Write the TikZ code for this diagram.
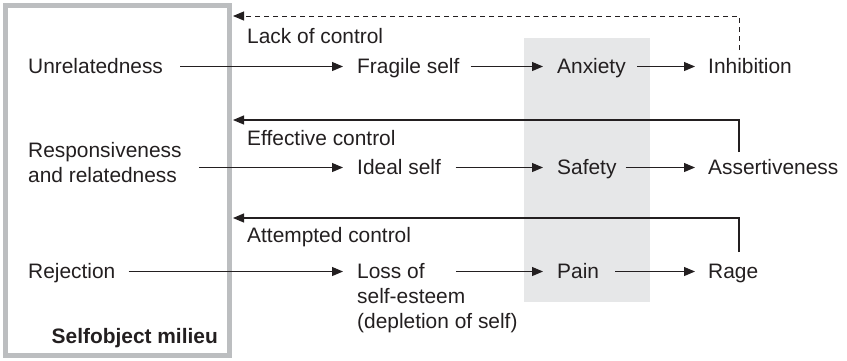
\documentclass[tikz,border=0pt]{standalone}
\usepackage{fontspec}
\setmainfont{Liberation Sans}
\usetikzlibrary{arrows.meta}

\definecolor{ink}{HTML}{231F20}
\definecolor{framegray}{HTML}{BCBEC0}
\definecolor{bandgray}{HTML}{E6E7E8}

\tikzset{
  txt/.style={inner sep=0pt, text height=15pt, text depth=2pt, anchor=base west,
    text=ink, font=\fontsize{20.9pt}{25pt}\selectfont},
  % multi-line blocks: the base anchor sits on the last line
  multi/.style={inner sep=0pt, anchor=base west, align=left,
    text=ink, font=\fontsize{20.9pt}{25pt}\selectfont},
  arr/.style={draw=ink, line width=1.2pt, -{Triangle[length=11pt,width=9pt]}},
  fb/.style={draw=ink, line width=1.2pt, -{Triangle[length=11pt,width=9pt]}},
  fbdash/.style={fb, line width=1pt, dash pattern=on 5pt off 4pt},
}

\begin{document}
\begin{tikzpicture}[x=1pt,y=-1pt]
\useasboundingbox (0,0) rectangle (847,360);

% shaded band behind the middle column
\fill[bandgray] (524,38) rectangle (650,302);

% selfobject milieu frame
\node[draw=framegray, line width=5pt, minimum width=224pt, minimum height=350pt,
      inner sep=0pt] (frame) at (117.5,180.5) {};
\node[inner sep=0pt, anchor=base east, text=ink,
      font=\fontsize{20.9pt}{25pt}\selectfont\bfseries] (milieu) at (218,343) {Selfobject milieu};

% row 1
\node[txt] (unrel)   at (28,73)  {Unrelatedness};
\node[txt] (fragile) at (357,73) {Fragile self};
\node[txt] (anxiety) at (557,73) {Anxiety};
\node[txt] (inhib)   at (708,73) {Inhibition};

% row 2
\node[multi] (resp)   at (28,182)  {Responsiveness\\and relatedness};
\node[txt]   (ideal)  at (357,174) {Ideal self};
\node[txt]   (safety) at (557,174) {Safety};
\node[txt]   (assert) at (708,174) {Assertiveness};

% row 3
\node[txt]   (rej)      at (28,278)  {Rejection};
\node[txt]   (loss)     at (357,278) {Loss of};
\node[multi] (lossmore) at (357,328) {self-esteem\\(depletion of self)};
\node[txt]   (pain)     at (557,278) {Pain};
\node[txt]   (rage)     at (708,278) {Rage};

% feedback labels
\node[txt] (lack)      at (247,43)  {Lack of control};
\node[txt] (effective) at (247,145) {Effective control};
\node[txt] (attempted) at (247,242) {Attempted control};

% forward arrows
\draw[arr, shorten <=17pt,   shorten >=14pt] (unrel.east)   -- (fragile.west);
\draw[arr, shorten <=11pt,   shorten >=14pt] (fragile.east) -- (anxiety.west);
\draw[arr, shorten <=11.5pt, shorten >=13pt] (anxiety.east) -- (inhib.west);

\draw[arr, shorten <=17pt,   shorten >=14pt] (resp.east |- ideal.west) -- (ideal.west);
\draw[arr, shorten <=14.5pt, shorten >=14pt] (ideal.east)  -- (safety.west);
\draw[arr, shorten <=9pt,    shorten >=13pt] (safety.east) -- (assert.west);

\draw[arr, shorten <=13pt, shorten >=14pt] (rej.east)  -- (loss.west);
\draw[arr, shorten <=31pt, shorten >=14pt] (loss.east) -- (pain.west);
\draw[arr, shorten <=16pt, shorten >=13pt] (pain.east) -- (rage.west);

% feedback loops back to the milieu
\coordinate (upA)   at (739,50);
\coordinate (backA) at (233,16);
\coordinate (upB)   at (739,152);
\coordinate (backB) at (233,120);
\coordinate (upC)   at (739,252);
\coordinate (backC) at (233,218);

\draw[fbdash] (upA) |- (backA);
\draw[fb]     (upB) |- (backB);
\draw[fb]     (upC) |- (backC);
\end{tikzpicture}
\end{document}
